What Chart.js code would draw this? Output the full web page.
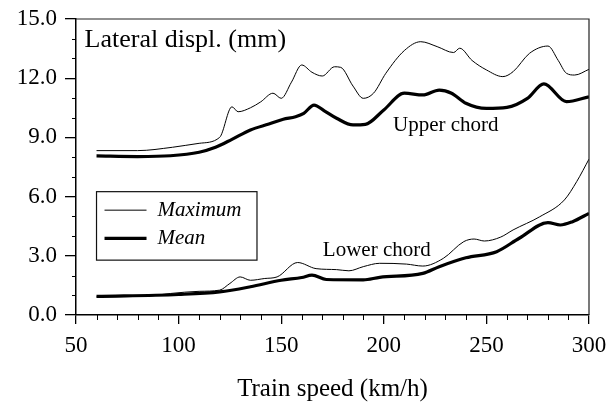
<!DOCTYPE html>
<html>
<head>
<meta charset="utf-8">
<script src="https://cdn.jsdelivr.net/npm/chart.js@4/dist/chart.umd.min.js"></script>
<style>
  html, body { margin: 0; padding: 0; background: #fff; }
  #wrap { width: 606px; height: 404px; position: relative; }
</style>
</head>
<body>
<div id="wrap"><canvas id="graph"></canvas></div>
<script>
// values
var upperMaxSpeed = [60, 80, 97, 110, 120, 126, 129, 135, 140, 146, 150, 155, 160, 165, 170, 176, 179, 185, 190, 195, 201, 210, 218, 226, 234, 237, 243, 250, 258, 263, 271, 280, 285, 289, 293, 300];
var upperMax = [8.33, 8.33, 8.5, 8.7, 9.0, 10.55, 10.3, 10.5, 10.8, 11.24, 10.98, 11.8, 12.67, 12.3, 12.11, 12.58, 12.55, 11.6, 10.98, 11.24, 12.25, 13.4, 13.85, 13.6, 13.3, 13.52, 12.9, 12.42, 12.08, 12.33, 13.26, 13.63, 12.9, 12.25, 12.16, 12.45];

var upperMeanSpeed = [60, 80, 96, 110, 118, 126, 135, 144, 151, 157, 161, 166, 171, 177, 185, 191, 200, 210, 219, 227, 233, 240, 250, 260, 270, 278, 289, 300];
var upperMean = [8.06, 8.03, 8.07, 8.25, 8.5, 8.9, 9.38, 9.68, 9.92, 10.05, 10.22, 10.64, 10.35, 9.97, 9.63, 9.66, 10.39, 11.24, 11.15, 11.4, 11.24, 10.73, 10.47, 10.52, 10.98, 11.71, 10.81, 11.06];

var lowerMaxSpeed = [60, 85, 96, 110, 120, 125, 130, 135, 142, 148, 158, 167, 177, 183, 190, 198, 211, 219, 229, 239, 244, 249, 257, 263, 276, 288, 294, 300];
var lowerMax = [0.92, 0.96, 1.09, 1.2, 1.26, 1.6, 1.93, 1.76, 1.85, 1.93, 2.66, 2.35, 2.3, 2.24, 2.45, 2.62, 2.58, 2.48, 2.87, 3.72, 3.85, 3.75, 3.95, 4.31, 4.98, 5.83, 6.76, 7.9];

var lowerMeanSpeed = [60, 100, 120, 135, 150, 160, 165, 172, 190, 198, 219, 227, 240, 255, 266, 280, 286, 292, 300];
var lowerMean = [0.94, 1.04, 1.17, 1.43, 1.76, 1.9, 2.02, 1.8, 1.78, 1.91, 2.11, 2.45, 2.9, 3.21, 3.89, 4.68, 4.56, 4.73, 5.15];

var xTicks = [50, 100, 150, 200, 250, 300];
var yTicks = [0, 3, 6, 9, 12, 15];
var legendNames = ["Maximum", "Mean"];

var serif = '"Liberation Serif", "Times New Roman", serif';

function pts(xs, ys) {
  return xs.map(function (s, i) { return {x: s, y: ys[i]}; });
}
function line(label, xs, ys, w) {
  return {
    label: label,
    data: pts(xs, ys),
    borderColor: '#000',
    borderWidth: w,
    pointRadius: 0,
    fill: false,
    cubicInterpolationMode: 'monotone'
  };
}

// frame, minor ticks, texts and the boxed legend
var extras = {
  id: 'extras',
  afterDraw: function (chart) {
    var ctx = chart.ctx, a = chart.chartArea;
    var x = chart.scales.x, y = chart.scales.y;
    ctx.save();
    ctx.strokeStyle = '#222';
    ctx.lineWidth = 1.2;
    ctx.beginPath();
    ctx.moveTo(a.left, a.top);
    ctx.lineTo(a.right, a.top);
    ctx.lineTo(a.right, a.bottom);
    ctx.stroke();

    // minor ticks
    ctx.strokeStyle = '#000';
    ctx.lineWidth = 1;
    ctx.beginPath();
    for (var s = 60; s < 300; s += 10) {
      if (s % 50 === 0) continue;
      var px = Math.round(x.getPixelForValue(s)) + 0.5;
      ctx.moveTo(px, a.bottom);
      ctx.lineTo(px, a.bottom + 5);
    }
    for (var v = 1; v < 15; v++) {
      if (v % 3 === 0) continue;
      var py = Math.round(y.getPixelForValue(v)) + 0.5;
      ctx.moveTo(a.left, py);
      ctx.lineTo(a.left - 4, py);
    }
    ctx.stroke();

    // texts
    ctx.fillStyle = '#000';
    ctx.textBaseline = 'alphabetic';
    ctx.textAlign = 'left';
    ctx.font = '26px ' + serif;
    ctx.fillText('Lateral displ. (mm)', x.getPixelForValue(54.2), y.getPixelForValue(13.6));
    ctx.font = '21px ' + serif;
    ctx.fillText('Upper chord', x.getPixelForValue(204.5), y.getPixelForValue(9.3));
    ctx.fillText('Lower chord', x.getPixelForValue(170.3), y.getPixelForValue(2.98));

    // legend
    var L = x.getPixelForValue(60), R = x.getPixelForValue(138.2);
    var T = y.getPixelForValue(6.25), B = y.getPixelForValue(2.78);
    ctx.lineWidth = 1.2;
    ctx.strokeStyle = '#111';
    ctx.strokeRect(L, T, R - L, B - T);
    var widths = [1, 3.2];
    for (var i = 0; i < legendNames.length; i++) {
      var ly = T + 18.5 + i * 28.3;
      ctx.lineWidth = widths[i];
      ctx.strokeStyle = '#000';
      ctx.beginPath();
      ctx.moveTo(L + 8, ly);
      ctx.lineTo(L + 50, ly);
      ctx.stroke();
      ctx.font = 'italic 21px ' + serif;
      ctx.fillText(legendNames[i], L + 61, ly + 6);
    }
    ctx.restore();
  }
};

new Chart("graph", {
  type: "line",
  data: {
    datasets: [
      line(legendNames[0], upperMaxSpeed, upperMax, 1),
      line(legendNames[1], upperMeanSpeed, upperMean, 3.2),
      line(legendNames[0] + ' lower', lowerMaxSpeed, lowerMax, 1),
      line(legendNames[1] + ' lower', lowerMeanSpeed, lowerMean, 3.2)
    ]
  },
  options: {
    responsive: true,
    maintainAspectRatio: false,
    animation: false,
    events: [],
    layout: {padding: {left: 0, top: 19, right: 17, bottom: 0}},
    plugins: {legend: {display: false}, tooltip: {enabled: false}},
    scales: {
      x: {
        type: 'linear',
        min: 50, max: 300,
        afterFit: function (s) { s.height = 89; s.paddingLeft = 0; s.paddingRight = 0; },
        afterBuildTicks: function (s) { s.ticks = xTicks.map(function (v) { return {value: v}; }); },
        ticks: {font: {family: serif, size: 23}, color: '#000', padding: 8, maxRotation: 0,
                callback: function (v) { return String(v); }},
        grid: {display: true, drawOnChartArea: false, drawTicks: true, tickLength: 9, color: '#000', lineWidth: 1.3},
        border: {display: true, color: '#000', width: 1.5},
        title: {display: true, text: 'Train speed (km/h)', font: {family: serif, size: 25}, color: '#000', padding: {top: 0, bottom: 0}}
      },
      y: {
        min: 0, max: 15,
        afterFit: function (s) { s.width = 76; s.paddingTop = 0; s.paddingBottom = 0; },
        afterBuildTicks: function (s) { s.ticks = yTicks.map(function (v) { return {value: v}; }); },
        ticks: {font: {family: serif, size: 23}, color: '#000', padding: 8,
                callback: function (v) { return v.toFixed(1); }},
        grid: {display: true, drawOnChartArea: false, drawTicks: true, tickLength: 11, color: '#000', lineWidth: 1.3},
        border: {display: true, color: '#000', width: 1.5}
      }
    }
  },
  plugins: [extras]
});
</script>
</body>
</html>
